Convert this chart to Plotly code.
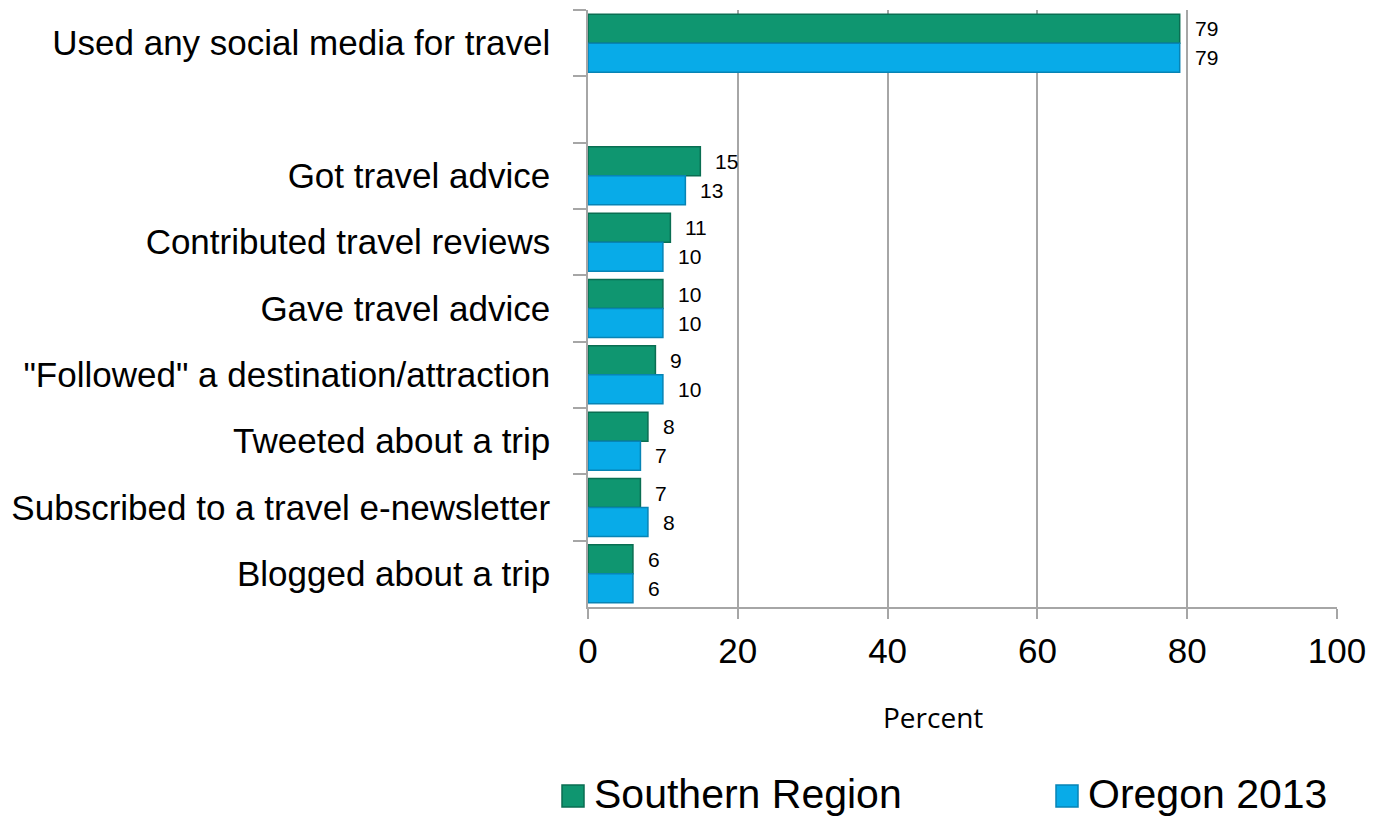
import plotly.graph_objects as go

# Survey categories, top to bottom; " " is an empty spacer row
categories = [
    "Used any social media for travel",
    " ",
    "Got travel advice",
    "Contributed travel reviews",
    "Gave travel advice",
    "\"Followed\" a destination/attraction",
    "Tweeted about a trip",
    "Subscribed to a travel e-newsletter",
    "Blogged about a trip",
]
southern_region = [79, None, 15, 11, 10, 9, 8, 7, 6]
oregon_2013 = [79, None, 13, 10, 10, 10, 7, 8, 6]
x_ticks = [0, 20, 40, 60, 80, 100]

GREEN = "#0F9670"
GREEN_EDGE = "#0A6E52"
BLUE = "#08ABE8"
BLUE_EDGE = "#0784B5"
GRID = "#A6A6A6"
SANS = "Liberation Sans, Arial, sans-serif"

W, H = 1379, 819
L, R, T, B = 588, 42, 10, 212
PW, PH = W - L - R, H - T - B


def px_x(px):
    return (px - L) / PW


def px_y(py):
    return (H - B - py) / PH


fig = go.Figure()
fig.add_trace(go.Bar(
    name="Southern Region", y=categories, x=southern_region, orientation="h",
    marker=dict(color=GREEN, line=dict(color=GREEN_EDGE, width=1.5)),
))
fig.add_trace(go.Bar(
    name="Oregon 2013", y=categories, x=oregon_2013, orientation="h",
    marker=dict(color=BLUE, line=dict(color=BLUE_EDGE, width=1.5)),
))

# value labels beside each bar end
annotations = []
for series, shift in ((southern_region, 14.5), (oregon_2013, -14.5)):
    for cat, v in zip(categories, series):
        if v is None:
            continue
        annotations.append(dict(
            x=v, y=cat, xref="x", yref="y", text=str(v), showarrow=False,
            xanchor="left", yanchor="middle", xshift=13, yshift=shift,
            font=dict(family=SANS, size=21, color="#000"),
        ))

# axis title
annotations.append(dict(
    x=px_x(933), y=px_y(717), xref="paper", yref="paper", text="Percent",
    showarrow=False, xanchor="center", yanchor="middle",
    font=dict(family="Open Sans, sans-serif", size=28, color="#000"),
))

# legend row below the axis
shapes = []
legend_items = [("Southern Region", GREEN, GREEN_EDGE, 562), ("Oregon 2013", BLUE, BLUE_EDGE, 1056)]
for label, fill, edge, x0 in legend_items:
    shapes.append(dict(
        type="rect", xref="paper", yref="paper",
        x0=px_x(x0), x1=px_x(x0 + 22), y0=px_y(807), y1=px_y(785),
        fillcolor=fill, line=dict(color=edge, width=1.5),
    ))
    annotations.append(dict(
        x=px_x(x0 + 31), y=px_y(794), xref="paper", yref="paper", text=label,
        showarrow=False, xanchor="left", yanchor="middle", borderpad=0,
        font=dict(family=SANS, size=41, color="#000"),
    ))

fig.update_layout(
    width=W, height=H,
    margin=dict(l=L, r=R, t=T, b=B, pad=0),
    paper_bgcolor="white", plot_bgcolor="white",
    barmode="group", bargap=0.125, bargroupgap=0,
    showlegend=False,
    annotations=annotations, shapes=shapes,
    xaxis=dict(
        range=[0, 100], tickvals=x_ticks, showgrid=True, gridcolor=GRID, gridwidth=1.5,
        showline=True, linecolor=GRID, linewidth=1.5, zeroline=False,
        ticks="outside", ticklen=10, tickcolor=GRID, tickwidth=1.5,
        ticklabelstandoff=2,
        tickfont=dict(family=SANS, size=35, color="#000"),
    ),
    yaxis=dict(
        categoryorder="array", categoryarray=categories, autorange="reversed",
        showgrid=False, showline=True, linecolor=GRID, linewidth=1.5, zeroline=False,
        tickson="boundaries", ticks="outside", ticklen=13, tickcolor=GRID, tickwidth=1.5,
        ticklabelstandoff=29,
        tickfont=dict(family=SANS, size=35, color="#000"),
    ),
)

fig.write_html("out.html")
